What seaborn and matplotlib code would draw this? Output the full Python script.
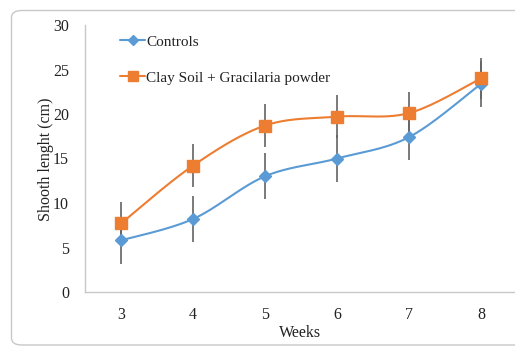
import numpy as np
import pandas as pd
import matplotlib
matplotlib.use("Agg")
import matplotlib.pyplot as plt
import seaborn as sns
from matplotlib.patches import FancyBboxPatch

weeks = [3, 4, 5, 6, 7, 8]
controls = [5.8, 8.2, 13.0, 15.0, 17.4, 23.4]
controls_err = [2.6, 2.6, 2.6, 2.6, 2.6, 2.6]
clay = [7.7, 14.2, 18.7, 19.7, 20.1, 24.0]
clay_err = [2.4, 2.4, 2.4, 2.4, 2.4, 2.3]
series_names = ["Controls", "Clay Soil + Gracilaria powder"]


def smooth(xs, ys, n=30):
    """Excel-like smoothed line (Bezier with Catmull-Rom control points)."""
    P = np.column_stack([xs, ys]).astype(float)
    Pe = np.vstack([P[0], P, P[-1]])
    out = []
    t = np.linspace(0, 1, n)[:, None]
    for i in range(len(P) - 1):
        p0, p3 = Pe[i + 1], Pe[i + 2]
        c1 = p0 + (Pe[i + 2] - Pe[i]) / 6
        c2 = p3 - (Pe[i + 3] - Pe[i + 1]) / 6
        seg = ((1 - t) ** 3) * p0 + 3 * ((1 - t) ** 2) * t * c1 + 3 * (1 - t) * t ** 2 * c2 + t ** 3 * p3
        out.append(seg if i == 0 else seg[1:])
    out = np.vstack(out)
    return out[:, 0], out[:, 1]


sns.set_theme(style="white")
plt.rcParams["font.family"] = ["Liberation Serif", "DejaVu Serif"]

fig = plt.figure(figsize=(5.15, 3.47), dpi=100)
fig.patch.set_facecolor("white")
frame = FancyBboxPatch((11.5 / 515, 2 / 347), 520 / 515, 334.5 / 347,
                       boxstyle="round,pad=0,rounding_size=0.02",
                       transform=fig.transFigure, facecolor="none",
                       edgecolor="#c8c8c8", linewidth=1.0, zorder=10)
fig.patches.append(frame)

ax = fig.add_axes([85 / 515, 55 / 347, 432 / 515, 267 / 347])
ax.set_facecolor("none")

blue = "#5B9BD5"
orange = "#ED7D31"

for vals, errs, color, marker, ms, name in [
    (controls, controls_err, blue, "D", 6.5, series_names[0]),
    (clay, clay_err, orange, "s", 8.5, series_names[1]),
]:
    sx, sy = smooth(weeks, vals)
    df = pd.DataFrame({"x": sx, "y": sy})
    sns.lineplot(data=df, x="x", y="y", ax=ax, color=color, linewidth=1.5,
                 sort=False, estimator=None, zorder=3)
    ax.errorbar(weeks, vals, yerr=errs, fmt="none", ecolor="#636363",
                elinewidth=1.2, capsize=0, zorder=4)
    ax.plot(weeks, vals, linestyle="none", marker=marker, markersize=ms,
            color=color, zorder=5)
    ax.plot([], [], color=color, marker=marker, markersize=ms * 0.8,
            linewidth=1.5, label=name)

ax.set_xlim(2.5, 8.5)
ax.set_ylim(0, 30)
ax.set_xticks(weeks)
ax.set_xticks(np.arange(2.5, 8.6, 1.0), minor=True)
ax.set_yticks([0, 5, 10, 15, 20, 25, 30])
ax.tick_params(axis="x", which="both", direction="inout", length=6, width=1,
               color="#c8c8c8", labelsize=11.5, labelcolor="#222222", pad=7.5)
ax.tick_params(axis="y", direction="out", length=5, width=1, color="#c8c8c8",
               labelsize=11.5, labelcolor="#222222", pad=6.5)
ax.tick_params(axis="x", which="minor", labelbottom=False)

for s in ["top", "right"]:
    ax.spines[s].set_visible(False)
for s in ["left", "bottom"]:
    ax.spines[s].set_color("#c8c8c8")
    ax.spines[s].set_linewidth(1.0)

ax.set_xlabel("Weeks", fontsize=11.5, color="#222222")
ax.set_ylabel("Shooth lenght (cm)", fontsize=11.5, color="#222222")
ax.xaxis.set_label_coords((300 - 85) / 432, -33 / 267)
ax.yaxis.set_label_coords(-31 / 432, (292 - 159) / 267)

leg = ax.legend(loc="upper left", bbox_to_anchor=(29 / 432, 1 - 4 / 267),
                frameon=False, fontsize=11, handlelength=1.65,
                handletextpad=0.05, labelspacing=1.45, borderaxespad=0)
for t in leg.get_texts():
    t.set_color("#222222")

fig.savefig("out.png", dpi=100)
